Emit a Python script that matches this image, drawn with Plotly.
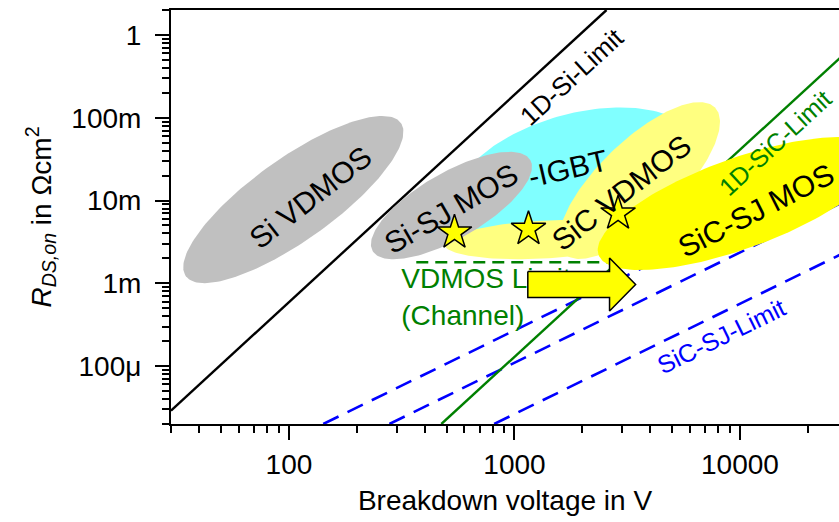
import numpy as np
import plotly.graph_objects as go

FONT = "Liberation Sans, Arial, sans-serif"
GREEN = "#008000"
BLUE = "#0000FF"

# ---------------- data ----------------
# axis ticks
x_tick_vals = [100, 1000, 10000]
x_tick_text = ["100", "1000", "10000"]
y_tick_vals = [1e-4, 1e-3, 1e-2, 1e-1, 1]
y_tick_text = ["100μ", "1m", "10m", "100m", "1"]

# 1D unipolar limits (straight lines in log-log), end points
si_limit_v = [30, 2560]
si_limit_r = [2.9e-5, 2.0]
sic_limit_v = [474, 30000]
sic_limit_r = [2.0e-5, 0.64]

# SiC super-junction limits (three dashed lines), end points
sj_limit_v = [[142, 30000], [279, 30000], [813, 30000]]
sj_limit_r = [[2.0e-5, 0.0251], [2.0e-5, 0.0102], [2.0e-5, 0.00245]]

# channel limited VDMOS (horizontal dashed line)
vdmos_limit_v = [367, 2865]
vdmos_limit_r = [1.8e-3, 1.8e-3]

# marked devices (stars)
star_v = [542, 1154, 2880]
star_r = [4.11e-3, 4.54e-3, 6.97e-3]

# technology regions: centre voltage / centre resistance
region_names = ["Si-IGBT", "SiC band", "SiC VDMOS", "SiC-SJ MOS", "Si-SJ MOS", "Si VDMOS"]
region_v = [1903, 1358, 3584, 9950, 525.6, 104.6]
region_r = [0.02004, 0.00338, 0.01744, 0.0092, 0.0087, 0.01028]

# improvement arrow: tail, head base, tip voltage; centre resistance
arrow_v = [1146, 2640, 3445]
arrow_r = 0.967e-3

# text labels: text, voltage, resistance
label_text = ["1D-Si-Limit", "Si VDMOS", "Si-SJ MOS", "-IGBT", "SiC VDMOS",
              "SiC-SJ MOS", "1D-SiC-Limit", "SiC-SJ-Limit"]
label_v = [1791, 124.4, 525, 1719, 2984, 11735, 14250, 8289]
label_r = [0.3145, 0.01087, 0.0080, 0.02435, 0.01249, 0.00757, 0.0502, 2.28e-4]

channel_text = ["VDMOS Limit", "(Channel)"]
channel_v = [315, 315]
channel_r = [1.08e-3, 3.86e-4]

# ---------------- geometry / style ----------------
FIG_W, FIG_H = 839, 522
M_L, M_T, M_B, M_R = 171, 10, 98, 0
X_RANGE = [np.log10(30), 4.439]
Y_RANGE = [np.log10(2e-5), np.log10(2)]
PX_X = (FIG_W - M_L - M_R) / (X_RANGE[1] - X_RANGE[0])
PX_Y = (FIG_H - M_T - M_B) / (Y_RANGE[1] - Y_RANGE[0])

# region shape (semi-axes in px, rotation deg) and colour
region_shape = [(125, 62, 15), (100, 19, 3), (105, 40, 44), (150, 45, 20), (91, 33, 30), (132, 41, 35.5)]
region_color = ["#80FFFF", "#FFFF80", "#FFFF80", "#FFFF00", "#C0C0C0", "#C0C0C0"]

label_style = [(-42.5, "black", 26), (-38, "black", 30), (-30, "black", 30), (-13, "black", 30),
               (-38, "black", 30), (-27, "black", 30), (-42.5, GREEN, 25), (-26, BLUE, 25)]


def ellipse(vc, rc, a, b, ang):
    t = np.linspace(0, 2 * np.pi, 181)
    th = np.deg2rad(ang)
    dx = a * np.cos(t) * np.cos(th) - b * np.sin(t) * np.sin(th)
    dy = a * np.cos(t) * np.sin(th) + b * np.sin(t) * np.cos(th)
    return 10 ** (np.log10(vc) + dx / PX_X), 10 ** (np.log10(rc) + dy / PX_Y)


fig = go.Figure()

# limit lines
for v, r in zip(sj_limit_v, sj_limit_r):
    fig.add_trace(go.Scatter(x=v, y=r, mode="lines",
                             line=dict(color=BLUE, width=2.6, dash="17px,10px")))
fig.add_trace(go.Scatter(x=sic_limit_v, y=sic_limit_r, mode="lines",
                         line=dict(color=GREEN, width=2.4)))
fig.add_trace(go.Scatter(x=vdmos_limit_v, y=vdmos_limit_r, mode="lines",
                         line=dict(color=GREEN, width=2.6, dash="12px,7px")))
fig.add_trace(go.Scatter(x=si_limit_v, y=si_limit_r, mode="lines",
                         line=dict(color="black", width=2.4)))

# technology regions
for vc, rc, (a, b, ang), col in zip(region_v, region_r, region_shape, region_color):
    ex, ey = ellipse(vc, rc, a, b, ang)
    fig.add_trace(go.Scatter(x=ex, y=ey, mode="lines", fill="toself",
                             fillcolor=col, line=dict(width=0, color=col)))

# channel-limit text (under the arrow)
fig.add_trace(go.Scatter(x=channel_v, y=channel_r, mode="text", text=channel_text,
                         textposition="middle right", cliponaxis=False,
                         textfont=dict(family=FONT, size=28, color=GREEN)))

# stars
fig.add_trace(go.Scatter(x=star_v, y=star_r, mode="markers",
                         marker=dict(symbol="star", size=26, color="#FFFF00",
                                     line=dict(color="black", width=1.5))))

# arrow
lt, lb, lp = np.log10(arrow_v)
lc = np.log10(arrow_r)
hb, hh = 13 / PX_Y, 26.5 / PX_Y
ax_ = [lt, lb, lb, lp, lb, lb, lt, lt]
ay_ = [lc + hb, lc + hb, lc + hh, lc, lc - hh, lc - hb, lc - hb, lc + hb]
fig.add_trace(go.Scatter(x=10 ** np.array(ax_), y=10 ** np.array(ay_), mode="lines",
                         fill="toself", fillcolor="#FFFF00",
                         line=dict(color="black", width=1.5)))

# rotated labels
for txt, v, r, (ang, col, sz) in zip(label_text, label_v, label_r, label_style):
    fig.add_annotation(x=np.log10(v), y=np.log10(r), xref="x", yref="y", text=txt,
                       textangle=ang, showarrow=False,
                       font=dict(family=FONT, size=sz, color=col))

axis_common = dict(type="log", showgrid=False, zeroline=False, showline=True,
                   linecolor="black", linewidth=2, ticks="outside", ticklen=14,
                   tickwidth=2, tickcolor="black", tickmode="array",
                   tickfont=dict(family=FONT, size=28, color="black"),
                   minor=dict(ticks="outside", ticklen=7, tickwidth=2,
                              tickcolor="black", dtick="D1", showgrid=False))

fig.update_layout(
    width=FIG_W, height=FIG_H,
    margin=dict(l=M_L, r=M_R, t=M_T, b=M_B, autoexpand=False),
    paper_bgcolor="white", plot_bgcolor="white", showlegend=False,
    xaxis=dict(axis_common, range=X_RANGE, mirror=True,
               tickvals=x_tick_vals, ticktext=x_tick_text, ticklabelstandoff=0,
               title=dict(text="Breakdown voltage in V", standoff=12,
                          font=dict(family=FONT, size=28, color="black"))),
    yaxis=dict(axis_common, range=Y_RANGE,
               tickvals=y_tick_vals, ticktext=y_tick_text, ticklabelstandoff=8,
               title=dict(text="<i>R</i><sub><i>DS,on</i></sub> in Ωcm<sup>2</sup>",
                          standoff=12, font=dict(family=FONT, size=28, color="black"))),
)

fig.write_html("out.html", config={"displayModeBar": False},
               post_script="document.body.style.margin='0';")
